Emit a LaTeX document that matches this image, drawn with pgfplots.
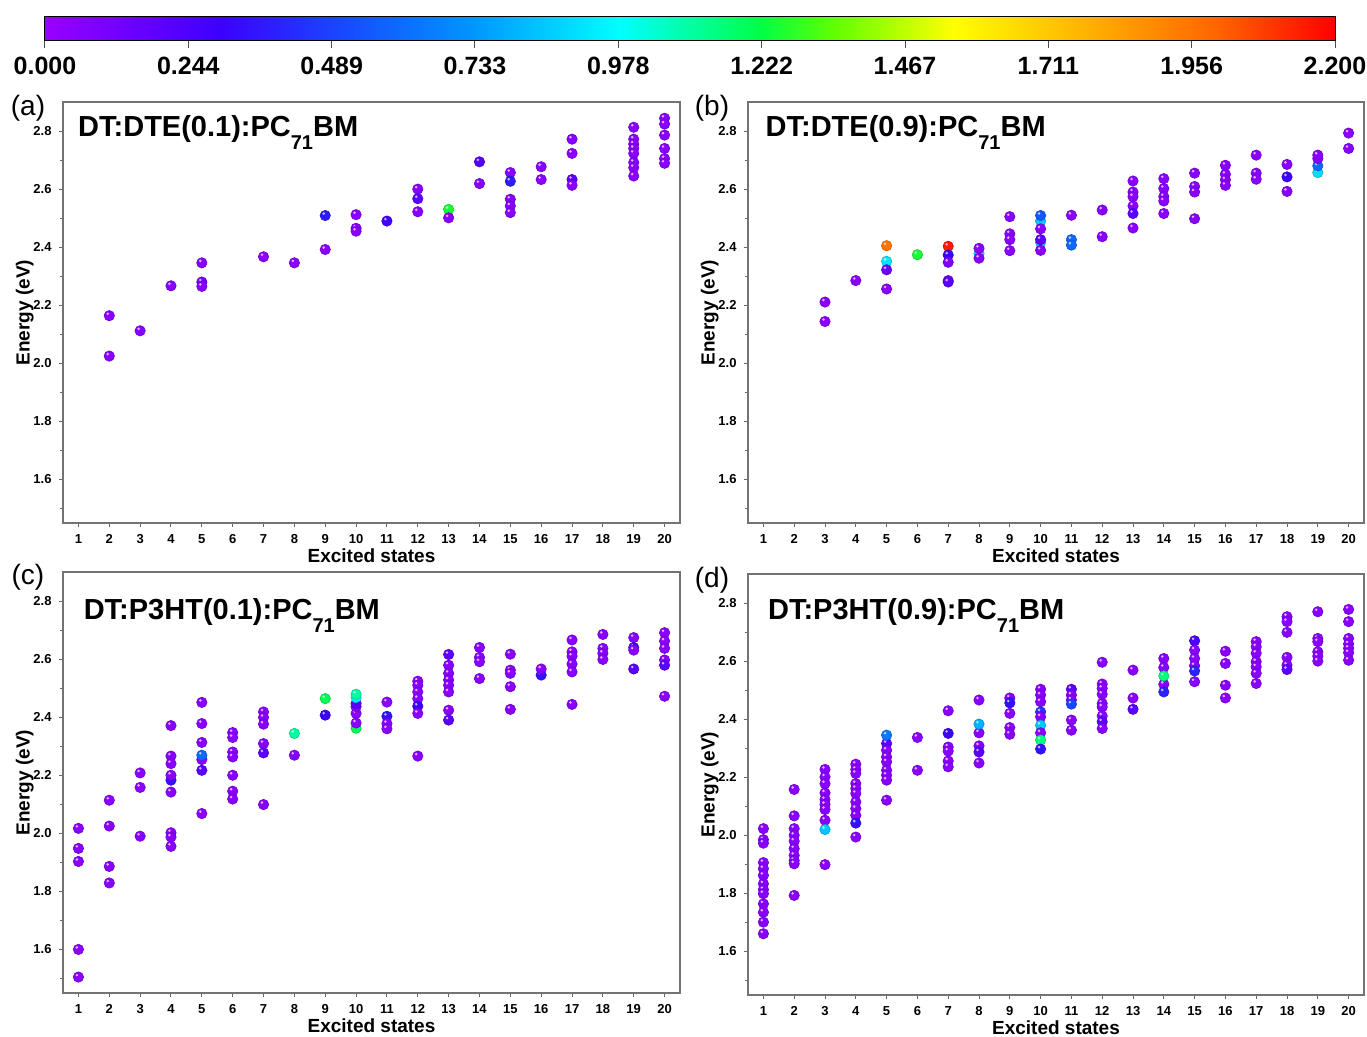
\documentclass[border=0pt]{standalone}
\usepackage{fontspec}
\setmainfont{Liberation Sans}
\usepackage{pgfplots}
\pgfplotsset{compat=1.18}
\usepackage{pgfplotstable}

% colour values: ~0.05 purple, ~0.2 blue-violet, ~0.35 blue, ~0.6 azure,
% ~0.9 cyan, ~1.1 aqua, ~1.2 green, ~1.95 orange, ~2.15 red
\pgfplotstableread{
x y c
2 2.164 0.05
2 2.025 0.05
3 2.112 0.05
4 2.267 0.05
5 2.346 0.05
5 2.280 0.12
5 2.265 0.05
7 2.367 0.05
8 2.346 0.05
9 2.509 0.38
9 2.392 0.05
10 2.512 0.05
10 2.465 0.05
10 2.455 0.05
11 2.490 0.28
12 2.600 0.05
12 2.567 0.2
12 2.522 0.05
13 2.530 1.25
13 2.501 0.05
14 2.694 0.22
14 2.619 0.05
15 2.657 0.05
15 2.627 0.38
15 2.565 0.05
15 2.542 0.05
15 2.519 0.05
16 2.677 0.05
16 2.633 0.05
17 2.772 0.05
17 2.723 0.05
17 2.633 0.2
17 2.613 0.05
19 2.813 0.05
19 2.772 0.05
19 2.755 0.05
19 2.740 0.05
19 2.723 0.05
19 2.692 0.05
19 2.674 0.05
19 2.645 0.05
20 2.844 0.05
20 2.824 0.05
20 2.786 0.05
20 2.740 0.05
20 2.705 0.05
20 2.689 0.05
}\dataA

\pgfplotstableread{
x y c
3 2.211 0.05
3 2.144 0.05
4 2.285 0.05
5 2.405 1.95
5 2.351 0.92
5 2.322 0.15
5 2.256 0.05
6 2.374 1.25
7 2.403 2.15
7 2.373 0.3
7 2.348 0.08
7 2.285 0.05
7 2.280 0.2
8 2.378 0.9
8 2.396 0.05
8 2.362 0.05
9 2.505 0.05
9 2.446 0.05
9 2.426 0.05
9 2.388 0.05
10 2.490 0.85
10 2.509 0.55
10 2.463 0.05
10 2.417 0.85
10 2.426 0.2
10 2.389 0.05
11 2.510 0.05
11 2.426 0.6
11 2.407 0.6
12 2.528 0.05
12 2.436 0.05
13 2.628 0.05
13 2.590 0.05
13 2.574 0.05
13 2.542 0.05
13 2.516 0.2
13 2.466 0.05
14 2.636 0.05
14 2.602 0.05
14 2.574 0.05
14 2.559 0.05
14 2.516 0.05
15 2.655 0.05
15 2.609 0.05
15 2.590 0.05
15 2.498 0.05
16 2.682 0.05
16 2.651 0.05
16 2.632 0.05
16 2.613 0.05
17 2.717 0.05
17 2.655 0.05
17 2.634 0.05
18 2.685 0.05
18 2.642 0.3
18 2.592 0.05
19 2.657 0.9
19 2.680 0.6
19 2.705 0.05
19 2.717 0.05
20 2.793 0.05
20 2.740 0.05
}\dataB

\pgfplotstableread{
x y c
1 2.017 0.05
1 1.948 0.05
1 1.903 0.05
1 1.600 0.05
1 1.505 0.05
2 2.114 0.05
2 2.025 0.05
2 1.886 0.05
2 1.829 0.05
3 2.208 0.05
3 2.158 0.05
3 1.990 0.05
4 2.371 0.05
4 2.266 0.05
4 2.240 0.05
4 2.183 0.35
4 2.200 0.05
4 2.142 0.05
4 2.002 0.05
4 1.987 0.05
4 1.955 0.05
5 2.451 0.05
5 2.378 0.05
5 2.313 0.05
5 2.254 0.05
5 2.269 0.6
5 2.217 0.2
5 2.068 0.05
6 2.347 0.05
6 2.330 0.05
6 2.280 0.05
6 2.263 0.05
6 2.200 0.05
6 2.145 0.05
6 2.118 0.05
7 2.418 0.05
7 2.399 0.05
7 2.376 0.05
7 2.309 0.05
7 2.277 0.2
7 2.099 0.05
8 2.344 1.1
8 2.269 0.05
9 2.464 1.2
9 2.407 0.3
10 2.362 1.2
10 2.380 0.05
10 2.413 0.05
10 2.436 0.05
10 2.447 0.2
10 2.468 0.95
10 2.479 1.1
11 2.452 0.05
11 2.403 0.35
11 2.378 0.05
11 2.360 0.05
12 2.524 0.05
12 2.510 0.05
12 2.487 0.05
12 2.464 0.05
12 2.438 0.3
12 2.413 0.05
12 2.266 0.05
13 2.616 0.2
13 2.579 0.05
13 2.551 0.05
13 2.528 0.05
13 2.510 0.05
13 2.487 0.05
13 2.424 0.05
13 2.390 0.2
14 2.640 0.05
14 2.606 0.05
14 2.591 0.05
14 2.533 0.05
15 2.617 0.05
15 2.562 0.05
15 2.551 0.05
15 2.505 0.05
15 2.427 0.05
16 2.545 0.35
16 2.566 0.05
17 2.666 0.05
17 2.625 0.05
17 2.610 0.05
17 2.583 0.05
17 2.556 0.05
17 2.444 0.05
18 2.685 0.05
18 2.637 0.05
18 2.620 0.05
18 2.599 0.05
19 2.674 0.05
19 2.640 0.35
19 2.631 0.05
19 2.566 0.2
20 2.691 0.05
20 2.662 0.05
20 2.637 0.05
20 2.597 0.05
20 2.579 0.2
20 2.472 0.05
}\dataC

\pgfplotstableread{
x y c
1 2.023 0.05
1 1.985 0.05
1 1.973 0.05
1 1.906 0.05
1 1.885 0.05
1 1.862 0.05
1 1.833 0.05
1 1.813 0.05
1 1.799 0.05
1 1.764 0.05
1 1.735 0.05
1 1.701 0.05
1 1.661 0.05
2 2.158 0.05
2 2.067 0.05
2 2.023 0.05
2 2.000 0.05
2 1.980 0.05
2 1.954 0.05
2 1.931 0.05
2 1.913 0.05
2 1.902 0.05
2 1.793 0.05
3 2.227 0.05
3 2.201 0.05
3 2.178 0.05
3 2.146 0.05
3 2.123 0.05
3 2.106 0.05
3 2.089 0.05
3 2.052 0.05
3 2.020 0.85
3 1.899 0.05
4 2.245 0.05
4 2.227 0.05
4 2.213 0.05
4 2.178 0.05
4 2.161 0.05
4 2.144 0.05
4 2.115 0.05
4 2.092 0.05
4 2.069 0.05
4 2.042 0.35
4 1.994 0.05
5 2.316 0.2
5 2.345 0.65
5 2.293 0.05
5 2.270 0.05
5 2.253 0.05
5 2.224 0.05
5 2.207 0.05
5 2.190 0.05
5 2.121 0.05
6 2.337 0.05
6 2.224 0.05
7 2.429 0.05
7 2.351 0.3
7 2.304 0.05
7 2.290 0.05
7 2.256 0.05
7 2.236 0.05
8 2.466 0.05
8 2.353 0.05
8 2.383 0.8
8 2.308 0.05
8 2.287 0.2
8 2.249 0.05
9 2.473 0.05
9 2.456 0.35
9 2.420 0.05
9 2.371 0.05
9 2.348 0.05
10 2.503 0.05
10 2.483 0.05
10 2.460 0.05
10 2.425 0.45
10 2.408 0.05
10 2.379 0.85
10 2.353 0.05
10 2.328 1.15
10 2.297 0.35
11 2.503 0.2
11 2.483 0.05
11 2.466 0.05
11 2.452 0.5
11 2.397 0.05
11 2.362 0.05
12 2.596 0.05
12 2.521 0.05
12 2.506 0.05
12 2.486 0.05
12 2.454 0.05
12 2.442 0.05
12 2.411 0.05
12 2.391 0.2
12 2.368 0.05
13 2.569 0.05
13 2.473 0.05
13 2.434 0.2
14 2.609 0.05
14 2.578 0.05
14 2.520 0.05
14 2.549 1.15
14 2.494 0.4
15 2.670 0.25
15 2.638 0.05
15 2.609 0.05
15 2.584 0.05
15 2.566 0.4
15 2.529 0.05
16 2.634 0.05
16 2.592 0.05
16 2.517 0.05
16 2.473 0.05
17 2.667 0.05
17 2.649 0.05
17 2.627 0.05
17 2.598 0.05
17 2.580 0.05
17 2.558 0.05
17 2.523 0.05
18 2.753 0.05
18 2.736 0.05
18 2.699 0.05
18 2.613 0.05
18 2.586 0.05
18 2.571 0.2
19 2.770 0.05
19 2.678 0.05
19 2.667 0.05
19 2.632 0.05
19 2.617 0.05
19 2.600 0.05
20 2.778 0.05
20 2.736 0.05
20 2.678 0.05
20 2.659 0.05
20 2.644 0.05
20 2.629 0.05
20 2.603 0.05
}\dataD

\tikzset{ttl/.style={anchor=base west, inner sep=0pt, font=\fontsize{14.5}{16}\selectfont\bfseries}}
\newcommand{\sub}[1]{\raisebox{-0.42em}{\fontsize{10}{10}\selectfont #1}}

% sphere-like mark: filled disc with a pale highlight
\pgfdeclareplotmark{sph}{%
  \pgfpathcircle{\pgfpointorigin}{\pgfplotmarksize}%
  \pgfusepathqfillstroke
  \pgfsetfillcolor{mapped color!30!white}%
  \pgfpathcircle{\pgfpoint{-0.3\pgfplotmarksize}{0.38\pgfplotmarksize}}{0.27\pgfplotmarksize}%
  \pgfusepathqfill}

\pgfplotsset{
  colormap={ref}{rgb255(0pt)=(153,0,255); rgb255(30pt)=(60,0,255); rgb255(50pt)=(25,70,255);
    rgb255(73pt)=(0,150,255); rgb255(98pt)=(0,255,255); rgb255(122pt)=(0,255,70);
    rgb255(135pt)=(100,255,0); rgb255(155pt)=(255,255,0); rgb255(180pt)=(255,170,0);
    rgb255(200pt)=(255,100,0); rgb255(220pt)=(255,0,0)},
  panel/.style={
    scale only axis, width=308.5pt, height=210.5pt,
    xmin=0.5, xmax=20.5, ymin=1.45, ymax=2.9,
    xtick={1,...,20},
    ytick={1.6,1.8,2.0,2.2,2.4,2.6,2.8},
    minor ytick={1.5,1.7,1.9,2.1,2.3,2.5,2.7},
    tick align=outside, xtick pos=left, ytick pos=left,
    major tick length=2.2pt, minor tick length=1.5pt,
    axis line style={black!55, line width=0.6pt},
    every tick/.style={black!60, line width=0.5pt},
    /pgf/number format/assume math mode=true,
    ticklabel style={font=\fontsize{6.5}{7}\selectfont\bfseries},
    yticklabel style={/pgf/number format/.cd, fixed, fixed zerofill, precision=1},
    xlabel={Excited states}, ylabel={Energy (eV)},
    label style={font=\fontsize{9.5}{11}\selectfont\bfseries},
    xlabel style={at={(axis description cs:0.5,-0.078)}, anchor=center},
    ylabel style={at={(axis description cs:-0.062,0.5)}, anchor=center},
    colormap name=ref, point meta min=0, point meta max=2.2,
  },
  sc/.style={scatter, only marks, mark=sph, mark size=2.6pt,
    scatter src=explicit,
    scatter/use mapped color={draw=mapped color!80!black, fill=mapped color, line width=0.3pt}},
}

\begin{document}
\begin{tikzpicture}
\path[use as bounding box] (0,0) rectangle (683.5pt,-518.5pt);

% colour bar
\begin{axis}[at={(22.5pt,-11.5pt)}, anchor=south west, scale only axis,
  width=645pt, height=12pt, hide axis, xmin=0, xmax=1, ymin=0, ymax=1,
  colormap name=ref, point meta min=0, point meta max=2.2,
  colorbar horizontal,
  colorbar style={at={(parent axis.south west)}, anchor=south west,
    scale only axis, width=645pt, height=12pt, hide axis=false,
    xtick={0,0.2444,0.4889,0.7333,0.9778,1.2222,1.4667,1.7111,1.9556,2.2},
    xticklabels={0.000,0.244,0.489,0.733,0.978,1.222,1.467,1.711,1.956,2.200},
    xtick pos=left, xticklabel pos=lower, tick align=outside,
    major tick length=4pt, every tick/.style={black!70, line width=0.5pt},
    axis line style={black, line width=0.5pt},
    xticklabel style={font=\fontsize{12.5}{13}\selectfont\bfseries, yshift=-1pt}}]
\end{axis}

% (a)
\begin{axis}[panel, at={(31.5pt,-261.5pt)}, anchor=south west]
\addplot[sc] table[meta=c] {\dataA};
\node[ttl] at (rel axis cs:0.024,0.917) {DT:DTE(0.1):PC\sub{71}BM};
\end{axis}

% (b)
\begin{axis}[panel, at={(374pt,-261.5pt)}, anchor=south west, width=308pt]
\addplot[sc] table[meta=c] {\dataB};
\node[ttl] at (rel axis cs:0.028,0.917) {DT:DTE(0.9):PC\sub{71}BM};
\end{axis}

% (c)
\begin{axis}[panel, at={(31.5pt,-496.5pt)}, anchor=south west]
\addplot[sc] table[meta=c] {\dataC};
\node[ttl] at (rel axis cs:0.033,0.886) {DT:P3HT(0.1):PC\sub{71}BM};
\end{axis}

% (d)
\begin{axis}[panel, at={(374pt,-497.5pt)}, anchor=south west, width=308pt]
\addplot[sc] table[meta=c] {\dataD};
\node[ttl] at (rel axis cs:0.032,0.891) {DT:P3HT(0.9):PC\sub{71}BM};
\end{axis}

\node[font=\fontsize{14}{16}\selectfont] at (14pt,-54pt) {(a)};
\node[font=\fontsize{14}{16}\selectfont] at (356pt,-54pt) {(b)};
\node[font=\fontsize{14}{16}\selectfont] at (14pt,-288.5pt) {(c)};
\node[font=\fontsize{14}{16}\selectfont] at (356pt,-290pt) {(d)};
\end{tikzpicture}
\end{document}
